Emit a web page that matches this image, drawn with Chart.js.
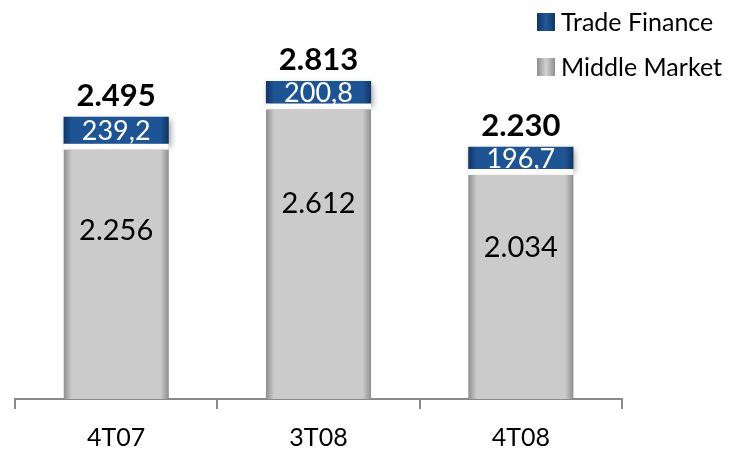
<!DOCTYPE html>
<html>
<head>
<meta charset="utf-8">
<script src="https://cdn.jsdelivr.net/npm/chart.js@4.4.1/dist/chart.umd.min.js"></script>
<style>
    html, body { margin: 0; padding: 0; background: #fff; }
    #wrap { width: 747px; height: 468px; position: relative; }
</style>
</head>
<body>
<div id="wrap"><canvas id="chart"></canvas></div>
<script>
const categories = ['4T07', '3T08', '4T08'];
const middleMarket = [2256, 2612, 2034];
const tradeFinance = [239.2, 200.8, 196.7];
const totals = [2495, 2813, 2230];

const BAR_PCT = 0.52;

// 2.256 / 239,2 style numbers
function fmt(v) {
    if (Number.isInteger(v)) {
        return String(v).replace(/\B(?=(\d{3})+(?!\d))/g, '.');
    }
    return v.toFixed(1).replace('.', ',');
}

function barGradient(ctx, edge, mid) {
    const chart = ctx.chart;
    if (!chart.chartArea || !chart.scales.x) return mid;
    const x = chart.scales.x.getPixelForValue(ctx.dataIndex);
    const half = chart.scales.x.width / categories.length * BAR_PCT / 2;
    const g = chart.ctx.createLinearGradient(x - half, 0, x + half, 0);
    g.addColorStop(0, edge);
    g.addColorStop(0.08, mid);
    g.addColorStop(0.92, mid);
    g.addColorStop(1, edge);
    return g;
}

const barShadow = {
    id: 'barShadow',
    beforeDatasetsDraw(chart) {
        const c = chart.ctx;
        c.save();
        c.shadowColor = 'rgba(0,0,0,0.35)';
        c.shadowBlur = 6;
        c.shadowOffsetX = 2;
        c.shadowOffsetY = 3;
    },
    afterDatasetsDraw(chart) {
        chart.ctx.restore();
    }
};

const valueLabels = {
    id: 'valueLabels',
    afterDraw(chart) {
        const c = chart.ctx;
        const mm = chart.getDatasetMeta(0);
        const tf = chart.getDatasetMeta(1);
        c.save();
        c.textAlign = 'center';
        c.textBaseline = 'middle';
        mm.data.forEach((bar, i) => {
            const top = bar.y, bottom = bar.base;
            c.fillStyle = '#000';
            c.font = '29px Lato';
            c.fillText(fmt(middleMarket[i]), bar.x, top + (bottom - top) * 0.34);
        });
        tf.data.forEach((bar, i) => {
            c.fillStyle = '#fff';
            c.font = '27px Lato';
            c.fillText(fmt(tradeFinance[i]), bar.x, (bar.y + bar.base) / 2 + 1);
            c.fillStyle = '#000';
            c.font = 'bold 31px Lato';
            c.fillText(fmt(totals[i]), bar.x, bar.y - 21);
        });
        c.restore();
    }
};

const sideLegend = {
    id: 'sideLegend',
    afterDraw(chart) {
        const c = chart.ctx;
        const items = [
            { label: chart.data.datasets[1].label, edge: '#0f3565', mid: '#235a9a' },
            { label: chart.data.datasets[0].label, edge: '#8e8e8e', mid: '#d2d2d2' }
        ];
        c.save();
        c.font = '25px Lato';
        c.textBaseline = 'middle';
        items.forEach((it, k) => {
            const y = 22 + k * 45;
            const g = c.createLinearGradient(537, 0, 555, 0);
            g.addColorStop(0, it.edge);
            g.addColorStop(0.5, it.mid);
            g.addColorStop(1, it.edge);
            c.fillStyle = g;
            c.fillRect(537, y - 9, 18, 18);
            c.fillStyle = '#000';
            c.fillText(it.label, 561, y + 1);
        });
        c.restore();
    }
};

const ctx = document.getElementById('chart').getContext('2d');

new Chart(ctx, {
    type: 'bar',
    data: {
        labels: categories,
        datasets: [
            {
                label: 'Middle Market',
                data: middleMarket,
                backgroundColor: (c) => barGradient(c, '#8e8e8e', '#cbcbcb'),
                borderColor: '#ffffff',
                borderWidth: { top: 6, left: 0, right: 0, bottom: 0 },
                borderSkipped: false,
                barPercentage: BAR_PCT,
                categoryPercentage: 1
            },
            {
                label: 'Trade Finance',
                data: tradeFinance,
                backgroundColor: (c) => barGradient(c, '#0f3565', '#1f5494'),
                borderWidth: 0,
                barPercentage: BAR_PCT,
                categoryPercentage: 1
            }
        ]
    },
    options: {
        responsive: true,
        maintainAspectRatio: false,
        animation: false,
        layout: {
            padding: { left: 15, right: 125, top: 0, bottom: 1 }
        },
        plugins: {
            legend: { display: false },
            tooltip: { enabled: false }
        },
        scales: {
            x: {
                stacked: true,
                offset: true,
                border: { color: '#8a8a8a', width: 2 },
                grid: {
                    display: true,
                    drawOnChartArea: false,
                    drawTicks: true,
                    tickLength: 10,
                    color: '#8a8a8a',
                    lineWidth: 2
                },
                ticks: {
                    color: '#000',
                    padding: 14,
                    font: { family: 'Lato', size: 25 }
                }
            },
            y: {
                stacked: true,
                display: false,
                min: 0,
                max: 3528
            }
        }
    },
    plugins: [barShadow, valueLabels, sideLegend]
});
</script>
</body>
</html>
